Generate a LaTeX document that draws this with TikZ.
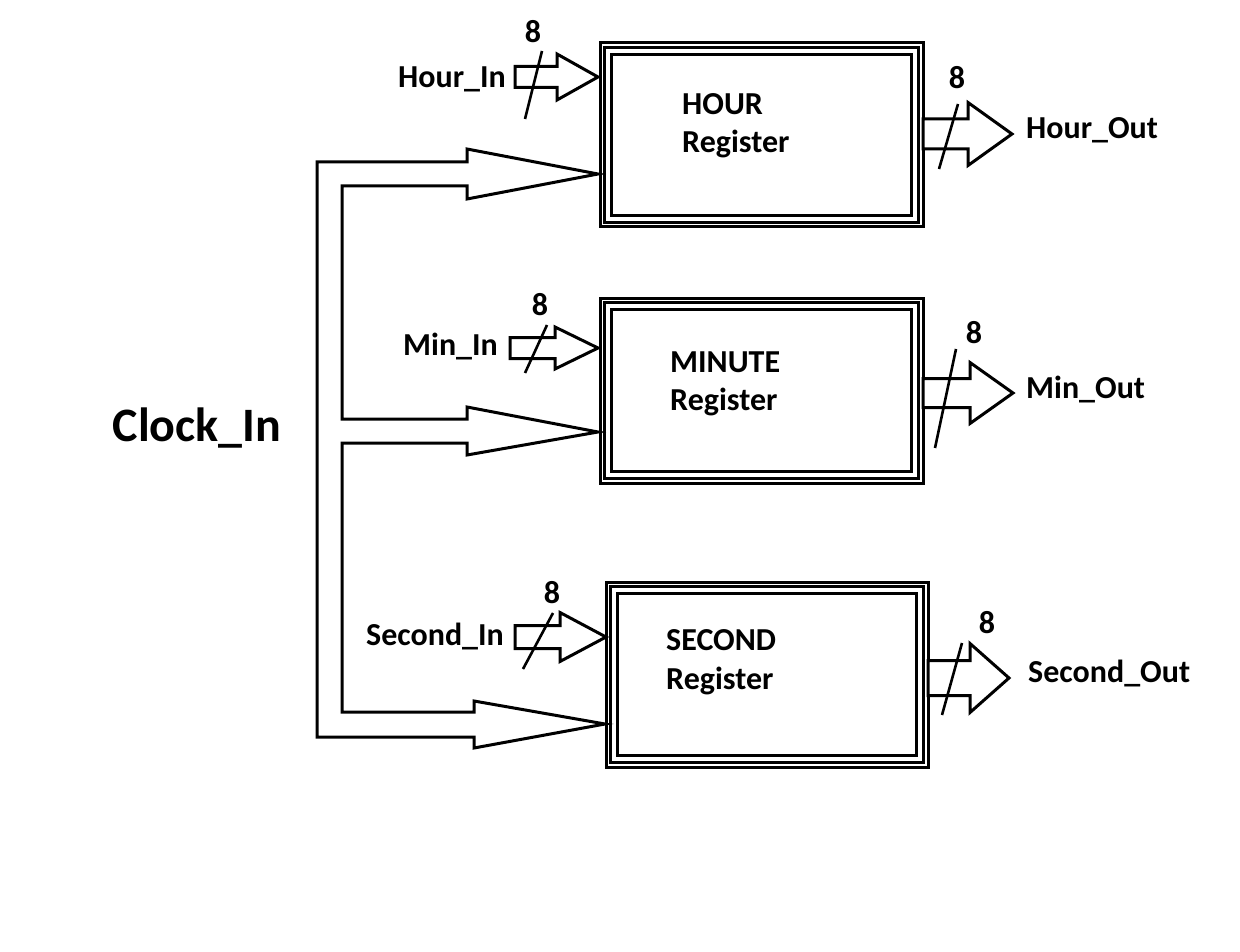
\documentclass[tikz,border=0pt]{standalone}
\usepackage{fontspec}
\setmainfont{Carlito}
\begin{document}
\begin{tikzpicture}[x=1pt,y=-1pt,
  reg/.style={draw, line width=3pt, inner sep=0pt},
  regline/.style={line width=3pt},
  bus/.style={draw, line width=3pt, line join=miter, fill=white},
  slash/.style={line width=2.6pt},
  lbl/.style={inner sep=0pt, font=\fontsize{32}{38}\selectfont\bfseries},
  num/.style={inner sep=0pt, anchor=base, font=\fontsize{32}{38}\selectfont\bfseries},
  big/.style={inner sep=0pt, font=\fontsize{48}{56}\selectfont\bfseries}
]
\useasboundingbox (0,0) rectangle (1240,952);
\newcommand\fatarrow[5]{% tip, total length, head length, shaft half, head half
  \draw[bus] (#1) -- ++(-#3,-#5) -- ++(0,{#5-#4}) -- ++({-(#2-#3)},0) -- ++(0,{2*#4})
    -- ++({#2-#3},0) -- ++(0,{#5-#4}) -- cycle;}
\newcommand\triplebox[1]{%
  \draw[regline] ([shift={(6,6)}]#1.north west) rectangle ([shift={(-6,-6)}]#1.south east);
  \draw[regline] ([shift={(13,13)}]#1.north west) rectangle ([shift={(-13,-13)}]#1.south east);}

% registers
\node[reg, minimum width=323pt, minimum height=184pt] (hour) at (761.5,135) {};
\node[reg, minimum width=323pt, minimum height=185pt] (minute) at (761.5,390.5) {};
\node[reg, minimum width=322pt, minimum height=185pt] (second) at (767,674.5) {};
\triplebox{hour}\triplebox{minute}\triplebox{second}

\node[lbl, anchor=base west] (hourT1) at (682,115) {HOUR};
\node[lbl, anchor=base west] (hourT2) at (682,153) {Register};
\node[lbl, anchor=base west] (minT1) at (670,372) {MINUTE};
\node[lbl, anchor=base west] (minT2) at (670,410) {Register};
\node[lbl, anchor=base west] (secT1) at (666,650) {SECOND};
\node[lbl, anchor=base west] (secT2) at (666,689) {Register};

% clock bus
\draw[bus] (467,162) -- (317,162) -- (317,737) -- (474,737) -- (474,748) -- (605,724)
  -- (474,701) -- (474,712) -- (342,712) -- (342,443) -- (467,443) -- (467,455)
  -- (598,432) -- (467,407) -- (467,419) -- (342,419) -- (342,186) -- (467,186)
  -- (467,199) -- (598,174) -- (467,149) -- cycle;
\node[big, anchor=base] (clk) at (197,441) {Clock\_In};

% input arrows
\coordinate (hinTip) at (598,77);
\coordinate (minTip) at (598,348);
\coordinate (sinTip) at (606,637);
\fatarrow{hinTip}{83}{41}{10.5}{23}
\fatarrow{minTip}{88}{43}{10.5}{21}
\fatarrow{sinTip}{91}{46}{11.5}{24.5}
\draw[slash] (542,51) -- (525,119);
\draw[slash] (547,325) -- (525,373);
\draw[slash] (553,613) -- (523,669);
\node[lbl, anchor=base east] (hin) at (506,88) {Hour\_In};
\node[lbl, anchor=base east] (min) at (498,355) {Min\_In};
\node[lbl, anchor=base east] (sin) at (504,645) {Second\_In};
\node[num] (n1) at (533,43) {8};
\node[num] (n2) at (540,315) {8};
\node[num] (n3) at (552,603) {8};

% output arrows
\coordinate (houtTip) at (1012,134);
\coordinate (moutTip) at (1013,393);
\coordinate (soutTip) at (1009,678);
\fatarrow{houtTip}{89}{44}{15}{31.5}
\fatarrow{moutTip}{90}{43}{14.5}{30.5}
\fatarrow{soutTip}{81}{39}{17.5}{34.5}
\draw[slash] (958,104) -- (939,169);
\draw[slash] (956,349) -- (935,448);
\draw[slash] (962,643) -- (942,715);
\node[lbl, anchor=base west] (hout) at (1026,139) {Hour\_Out};
\node[lbl, anchor=base west] (mout) at (1026,398) {Min\_Out};
\node[lbl, anchor=base west] (sout) at (1028,682) {Second\_Out};
\node[num] (n4) at (957,89) {8};
\node[num] (n5) at (974,343) {8};
\node[num] (n6) at (987,633) {8};
\end{tikzpicture}
\end{document}
